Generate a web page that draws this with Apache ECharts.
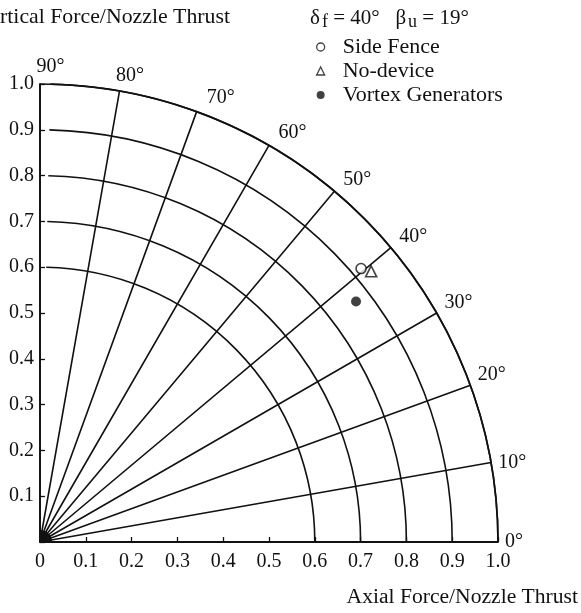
<!DOCTYPE html>
<html>
<head>
<meta charset="utf-8">
<script src="https://cdn.jsdelivr.net/npm/echarts@6/dist/echarts.min.js"></script>
<style>
html,body{margin:0;padding:0;background:#fff;}
#chart{width:581px;height:613px;}
</style>
</head>
<body>
<div id="chart"></div>
<script>
// ---- data ----
const seriesNames = ['Side Fence', 'No-device', 'Vortex Generators'];
const sideFence = [[0.701, 0.597]];      // [axial, vertical]
const noDevice = [[0.723, 0.591]];
const vortexGenerators = [[0.690, 0.525]];
const forceTicks = [0, 0.1, 0.2, 0.3, 0.4, 0.5, 0.6, 0.7, 0.8, 0.9, 1.0];
const angleTicks = [0, 10, 20, 30, 40, 50, 60, 70, 80, 90];
const arcRadii = [0.6, 0.7, 0.8, 0.9, 1.0];

const FONT = 'Liberation Serif';
const INK = '#111';
const ox = 40, oy = 542, R = 458;

const chart = echarts.init(document.getElementById('chart'), null, {renderer: 'canvas'});

const option = {
  backgroundColor: '#fff',
  animation: false,
  textStyle: {fontFamily: FONT, color: INK},
  grid: {left: ox, top: oy - R, width: R, height: R, containLabel: false},
  xAxis: {
    type: 'value', min: forceTicks[0], max: forceTicks[forceTicks.length - 1], interval: 0.1,
    axisLine: {show: true, lineStyle: {color: INK, width: 1.8}},
    axisTick: {show: true, inside: true, length: 5, lineStyle: {color: INK, width: 1.3}},
    splitLine: {show: false},
    axisLabel: {color: INK, fontFamily: FONT, fontSize: 20, margin: 10,
      formatter: v => (Math.abs(v) < 1e-9 ? '0' : v.toFixed(1))}
  },
  yAxis: {
    type: 'value', min: forceTicks[0], max: forceTicks[forceTicks.length - 1], interval: 0.1,
    axisLine: {show: true, lineStyle: {color: INK, width: 1.8}},
    axisTick: {show: true, inside: true, length: 5, lineStyle: {color: INK, width: 1.3}},
    splitLine: {show: false},
    axisLabel: {color: INK, fontFamily: FONT, fontSize: 20, margin: 6,
      formatter: v => (Math.abs(v) < 1e-9 ? '' : v.toFixed(1))}
  },
  polar: [
    {center: [ox, oy], radius: [0, R]},
    {center: [ox, oy], radius: [R * arcRadii[0], R]}
  ],
  angleAxis: [
    {
      polarIndex: 0, type: 'value', min: angleTicks[0], max: angleTicks[angleTicks.length - 1], interval: 10,
      startAngle: 0, endAngle: 90, clockwise: false,
      axisLine: {show: true, lineStyle: {color: INK, width: 1.7}},
      axisTick: {show: false},
      splitLine: {show: true, lineStyle: {color: INK, width: 1.6}},
      axisLabel: {show: false}
    },
    {
      // label ring, set slightly clockwise as in the printed figure
      polarIndex: 1, type: 'value', min: angleTicks[0], max: angleTicks[angleTicks.length - 1], interval: 10,
      startAngle: 0, endAngle: 88.7, clockwise: false,
      axisLine: {show: false}, axisTick: {show: false}, splitLine: {show: false},
      axisLabel: {show: true, color: INK, fontFamily: FONT, fontSize: 20, margin: 7,
        formatter: v => v + '°'}
    }
  ],
  radiusAxis: [
    {
      polarIndex: 0, type: 'value', min: 0, max: 1,
      axisLine: {show: false}, axisTick: {show: false}, axisLabel: {show: false}, splitLine: {show: false}
    },
    {
      polarIndex: 1, type: 'value', min: arcRadii[0], max: arcRadii[arcRadii.length - 1], interval: 0.1,
      axisLine: {show: false}, axisTick: {show: false}, axisLabel: {show: false},
      splitLine: {show: true, lineStyle: {color: INK, width: 1.6}}
    }
  ],
  legend: {
    orient: 'vertical', left: 311, top: 31, itemGap: 2,
    itemWidth: 8, itemHeight: 8,
    selectedMode: false,
    textStyle: {fontFamily: FONT, fontSize: 22, color: INK, padding: [0, 0, 0, 13]},
    data: [
      {name: seriesNames[0], icon: 'circle', itemStyle: {color: '#fff', borderColor: INK, borderWidth: 1.3}},
      {name: seriesNames[1], icon: 'triangle', itemStyle: {color: '#fff', borderColor: INK, borderWidth: 1.3}},
      {name: seriesNames[2], icon: 'circle', itemStyle: {color: INK, borderColor: INK, borderWidth: 0}}
    ]
  },
  series: [
    {name: seriesNames[0], type: 'scatter', data: sideFence, symbol: 'circle', symbolSize: 10,
      itemStyle: {color: '#fff', borderColor: INK, borderWidth: 1.6}, z: 5},
    {name: seriesNames[1], type: 'scatter', data: noDevice, symbol: 'triangle', symbolSize: 11,
      itemStyle: {color: '#fff', borderColor: INK, borderWidth: 1.6}, z: 5},
    {name: seriesNames[2], type: 'scatter', data: vortexGenerators, symbol: 'circle', symbolSize: 10,
      itemStyle: {color: INK}, z: 5}
  ],
  graphic: [
    {type: 'text', x: 230, y: 17, z: 10,
      style: {text: 'Vertical Force/Nozzle Thrust', fontFamily: FONT, fontSize: 21.8, fill: INK,
        align: 'right', verticalAlign: 'middle'}},
    {type: 'text', x: 578, y: 597, z: 10,
      style: {text: 'Axial Force/Nozzle Thrust', fontFamily: FONT, fontSize: 21.6, fill: INK,
        align: 'right', verticalAlign: 'middle'}},
    {type: 'text', x: 310, y: 18, z: 10,
      style: {text: 'δ{s|f} = 40°   β{s|u} = 19°', fontFamily: FONT, fontSize: 21, fill: INK,
        align: 'left', verticalAlign: 'middle',
        rich: {s: {fontFamily: FONT, fontSize: 18, fill: INK, padding: [8, 0, 0, 2]}}}},
    {type: 'sector', z: 10,
      shape: {cx: ox, cy: oy, r0: 0, r: 12, startAngle: -Math.PI / 2, endAngle: 0},
      style: {fill: INK}}
  ]
};
chart.setOption(option);
</script>
</body>
</html>
